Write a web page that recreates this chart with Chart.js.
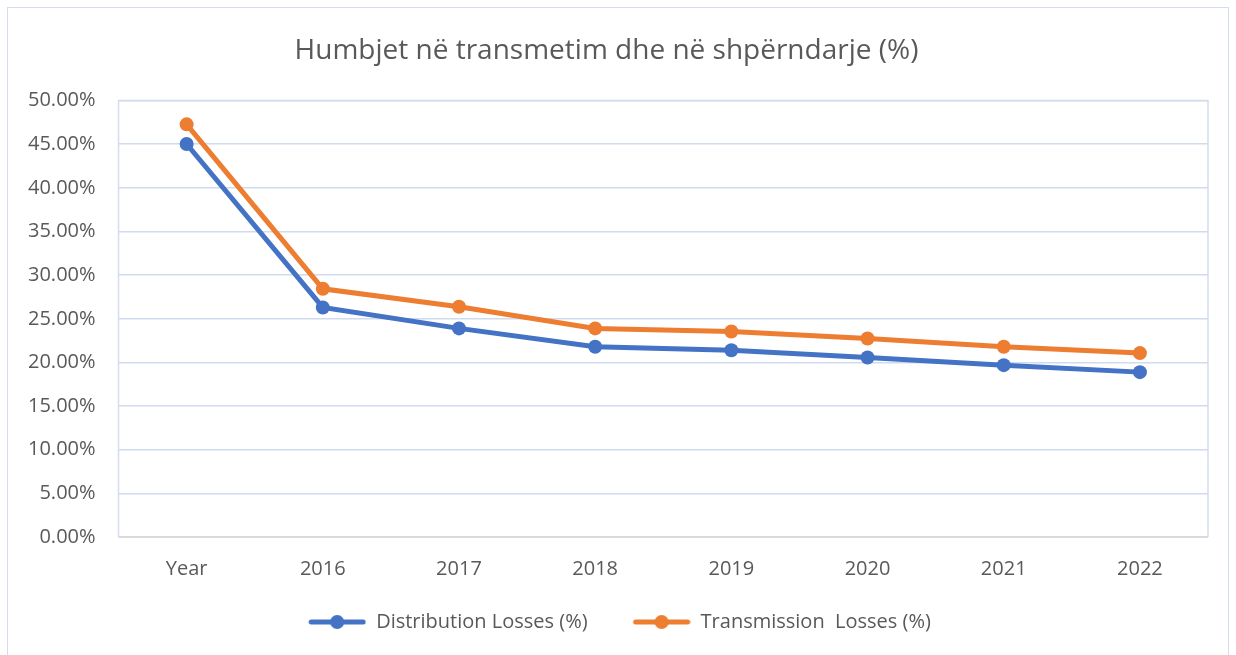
<!DOCTYPE html>
<html>
<head>
<meta charset="utf-8">
<script src="https://cdn.jsdelivr.net/npm/chart.js@4.4.0/dist/chart.umd.min.js"></script>
<style>
  html, body { margin: 0; padding: 0; background: #fff; overflow: hidden; }
  #wrap { position: relative; width: 1236px; height: 655px; }
  #frame { position: absolute; left: 7px; top: 7px; width: 1222px; height: 700px; border: 1px solid #d5dced; box-sizing: border-box; }
  #c { position: absolute; left: 0; top: 0; }
</style>
</head>
<body>
<div id="wrap">
  <div id="frame"></div>
  <canvas id="c" width="1236" height="655"></canvas>
</div>
<script>
// categories + series (percent)
const categories = ["Year", "2016", "2017", "2018", "2019", "2020", "2021", "2022"];
const distributionLosses = [45.03, 26.3, 23.9, 21.8, 21.4, 20.56, 19.69, 18.89];
const transmissionLosses = [47.28, 28.44, 26.38, 23.9, 23.55, 22.74, 21.79, 21.07];

const BLUE = "#4472c4";
const ORANGE = "#ed7d31";
const FONT = "'Open Sans', sans-serif";

// legend marker: short thick line with a dot, blank margin on the left as item gap
const MARK_GAP = 26;
function legendMarker(color) {
  const cv = document.createElement("canvas");
  cv.width = 58 + MARK_GAP; cv.height = 18;
  const g = cv.getContext("2d");
  g.strokeStyle = color;
  g.lineWidth = 5;
  g.lineCap = "round";
  g.beginPath(); g.moveTo(MARK_GAP + 3, 9); g.lineTo(MARK_GAP + 55, 9); g.stroke();
  g.fillStyle = color;
  g.beginPath(); g.arc(MARK_GAP + 29, 9, 7, 0, Math.PI * 2); g.fill();
  return cv;
}

// border round the plot area
const plotBorder = {
  id: "plotBorder",
  beforeDatasetsDraw(chart) {
    const { ctx, chartArea: a } = chart;
    ctx.save();
    ctx.strokeStyle = "#d5dced";
    ctx.lineWidth = 1.5;
    ctx.beginPath();
    ctx.moveTo(a.left, a.bottom);
    ctx.lineTo(a.left, a.top);
    ctx.lineTo(a.right, a.top);
    ctx.lineTo(a.right, a.bottom);
    ctx.stroke();
    ctx.strokeStyle = "#d9d9d9";
    ctx.lineWidth = 2;
    ctx.beginPath();
    ctx.moveTo(a.left, a.bottom);
    ctx.lineTo(a.right, a.bottom);
    ctx.stroke();
    ctx.restore();
  }
};

new Chart(document.getElementById("c"), {
  type: "line",
  data: {
    labels: categories,
    datasets: [
      {
        label: "Distribution Losses (%)",
        data: distributionLosses,
        borderColor: BLUE,
        backgroundColor: BLUE,
        borderWidth: 5,
        pointRadius: 7,
        pointStyle: "circle",
        pointBorderWidth: 0,
        tension: 0,
      },
      {
        label: "Transmission  Losses (%)",
        data: transmissionLosses,
        borderColor: ORANGE,
        backgroundColor: ORANGE,
        borderWidth: 5,
        pointRadius: 7,
        pointStyle: "circle",
        pointBorderWidth: 0,
        tension: 0,
      },
    ],
  },
  options: {
    responsive: false,
    animation: false,
    layout: { padding: { left: 5, right: 28, top: 18, bottom: 13 } },
    plugins: {
      title: {
        display: true,
        text: "Humbjet në transmetim dhe në shpërndarje (%)",
        color: "#595959",
        font: { family: FONT, size: 28, weight: "normal" },
        padding: { top: 16, bottom: 33 },
      },
      legend: {
        position: "bottom",
        labels: {
          color: "#595959",
          font: { family: FONT, size: 20 },
          usePointStyle: true,
          pointStyleWidth: 58 + MARK_GAP,
          padding: 19,
          generateLabels(chart) {
            return chart.data.datasets.map((ds, i) => ({
              text: ds.label,
              fillStyle: ds.borderColor,
              strokeStyle: ds.borderColor,
              pointStyle: legendMarker(ds.borderColor),
              lineWidth: 0,
              fontColor: "#595959",
              datasetIndex: i,
            }));
          },
        },
      },
      tooltip: { enabled: false },
    },
    scales: {
      x: {
        offset: true,
        grid: { display: false },
        border: { display: false },
        ticks: { color: "#595959", font: { family: FONT, size: 20 }, padding: 12, maxRotation: 0 },
      },
      y: {
        min: 0,
        max: 50,
        ticks: {
          stepSize: 5,
          color: "#595959",
          font: { family: FONT, size: 20 },
          padding: 23,
          callback: v => v.toFixed(2) + "%",
        },
        grid: { color: "#d0dbee", lineWidth: 1.5, drawTicks: false },
        border: { display: false },
      },
    },
  },
  plugins: [plotBorder],
});
</script>
</body>
</html>
